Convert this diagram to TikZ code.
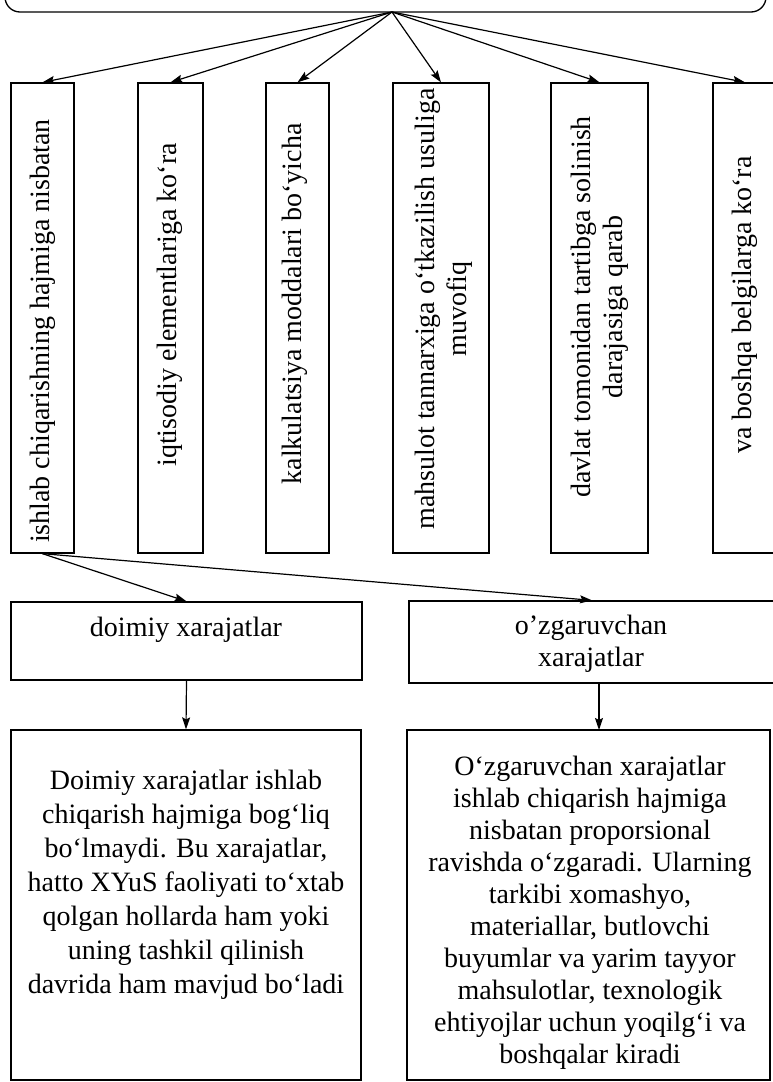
\documentclass[tikz,border=0pt]{standalone}
\usepackage{fontspec}
\setmainfont{Liberation Serif}
\usetikzlibrary{arrows.meta}
\begin{document}
\begin{tikzpicture}[x=1pt,y=-1pt,
  box/.style={draw,line width=1.3pt,inner sep=0pt},
  arr/.style={line width=1.2pt,-{Stealth[length=12pt,width=8pt,inset=2pt]}},
  txt/.style={font=\fontsize{28}{34}\selectfont,align=center,inner sep=0pt},
  txtb/.style={font=\fontsize{28}{32}\selectfont,align=center,inner sep=0pt},
]
\useasboundingbox (0,0) rectangle (773,1082);
% top box (partly outside)
\node[box,rounded corners=15pt,minimum width=761pt,minimum height=52pt] (top) at (385.5,-14) {};
\coordinate (apex) at (392,12);
% vertical boxes
\node[box,minimum width=63pt,minimum height=470pt] (b1) at (42.5,318) {};
\node[box,minimum width=65pt,minimum height=470pt] (b2) at (170.5,318) {};
\node[box,minimum width=63pt,minimum height=470pt] (b3) at (297.5,318) {};
\node[box,minimum width=96pt,minimum height=470pt] (b4) at (441,318) {};
\node[box,minimum width=97pt,minimum height=470pt] (b5) at (599.5,318) {};
\node[box,minimum width=64pt,minimum height=470pt] (b6) at (745,318) {};
\node[txt,rotate=90] (t1) at (43,331) {ishlab chiqarishning hajmiga nisbatan};
\node[txt,rotate=90] (t2) at (170,305) {iqtisodiy elementlariga ko‘ra};
\node[txt,rotate=90] (t3) at (295,304) {kalkulatsiya moddalari bo‘yicha};
\node[txtb,rotate=90] (t4) at (444,309) {mahsulot tannarxiga o‘tkazilish usuliga\\muvofiq};
\node[txtb,rotate=90] (t5) at (600,307) {davlat tomonidan tartibga solinish\\darajasiga qarab};
\node[txt,rotate=90] (t6) at (745,305) {va boshqa belgilarga ko‘ra};
% middle boxes
\node[box,minimum width=351pt,minimum height=78pt] (doim) at (186.5,641) {};
\node[txt] (doimt) at (186,630) {doimiy xarajatlar};
\node[box,minimum width=366pt,minimum height=82pt] (ozg) at (592,642) {};
\node[txtb] (ozgt) at (591,644) {o’zgaruvchan\\xarajatlar};
% lower boxes
\node[box,minimum width=350pt,minimum height=350pt] (low1) at (186,905) {};
\node[txt] (low1t) at (186,885) {Doimiy xarajatlar ishlab\\chiqarish hajmiga bog‘liq\\bo‘lmaydi. Bu xarajatlar,\\hatto XYuS faoliyati to‘xtab\\qolgan hollarda ham yoki\\uning tashkil qilinish\\davrida ham mavjud bo‘ladi};
\node[box,minimum width=363pt,minimum height=350pt] (low2) at (588.5,905) {};
\node[txtb] (low2t) at (590,913) {O‘zgaruvchan xarajatlar\\ishlab chiqarish hajmiga\\nisbatan proporsional\\ravishda o‘zgaradi. Ularning\\tarkibi xomashyo,\\materiallar, butlovchi\\buyumlar va yarim tayyor\\mahsulotlar, texnologik\\ehtiyojlar uchun yoqilg‘i va\\boshqalar kiradi};
% arrows
\foreach \b in {b1,b2,b3,b4,b5,b6} \draw[arr] (apex) -- (\b.north);
\draw[arr] (b1.south) -- (doim.north);
\draw[arr] (b1.south) -- (ozg.north);
\draw[arr] (doim.south) -- (low1.north);
\coordinate (dr) at (599,730);
\draw[arr] (ozg.south -| dr) -- (dr);
\end{tikzpicture}
\end{document}
